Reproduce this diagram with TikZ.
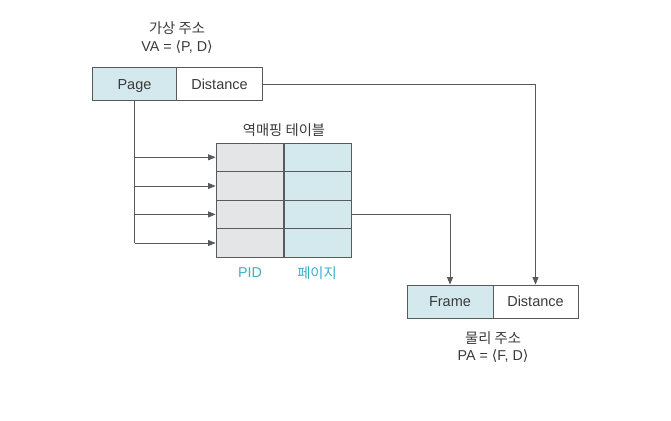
\documentclass[tikz,border=0pt]{standalone}
\usepackage{fontspec}
\setmainfont{Liberation Sans}
\newfontfamily\krfont{Noto Sans CJK KR}
\newfontfamily\djfont{DejaVu Sans}
\usetikzlibrary{arrows.meta}
\definecolor{lblue}{HTML}{D3E9EE}
\definecolor{lgray}{HTML}{E4E5E7}
\definecolor{ln}{HTML}{5A5A5A}
\definecolor{txt}{HTML}{3A3A3A}
\definecolor{cy}{HTML}{3AAFC6}
\newcommand{\lanb}{{\djfont\symbol{"27E8}}}
\newcommand{\ranb}{{\djfont\symbol{"27E9}}}
\begin{document}
\begin{tikzpicture}[x=1pt,y=-1pt,
  cell/.style={draw=ln,line width=0.8pt,minimum height=33pt,inner sep=0pt,text=txt,text height=10.5pt,text depth=0pt,font=\fontsize{14.5}{16}\selectfont},
  tcell/.style={draw=ln,line width=0.8pt,minimum width=67pt,minimum height=28.5pt,inner sep=0pt},
  lab/.style={text=txt,font=\fontsize{14.3}{16}\selectfont,align=center,inner sep=0pt},
  conn/.style={draw=ln,line width=0.8pt},
  arr/.style={conn,-{Triangle[length=7.5pt,width=6pt]}}]
\useasboundingbox (0,0) rectangle (671,420);
% virtual address
\node[cell,fill=lblue,minimum width=84pt] (page) at (134.5,84) {Page};
\node[cell,fill=white,minimum width=86pt] (vdist) at (219.5,84) {Distance};
\node[lab] (vat) at (177,28) {\krfont 가상 주소};
\node[lab] (va) at (177,47) {VA = \lanb P, D\ranb};
% table
\foreach \i/\y in {1/157.3,2/186,3/214.4,4/243}{
  \node[tcell,fill=lgray] (p\i) at (249.5,\y) {};
  \node[tcell,fill=lblue] (g\i) at (317.5,\y) {};
}
\node[lab] (tt) at (284,130) {\krfont 역매핑 테이블};
\node[lab,text=cy] (pid) at (250,273) {PID};
\node[lab,text=cy] (pg) at (317,273) {\krfont 페이지};
% physical address
\node[cell,fill=lblue,minimum width=86pt] (frame) at (450,301.5) {Frame};
\node[cell,fill=white,minimum width=85pt] (pdist) at (535.5,301.5) {Distance};
\node[lab] (pat) at (493,338) {\krfont 물리 주소};
\node[lab] (pa) at (493,356) {PA = \lanb F, D\ranb};
% connectors
\coordinate (trunk) at (page.south |- p4.west);
\draw[conn] (page.south) -- (trunk);
\foreach \i in {1,...,4}{
  \draw[arr] (trunk |- p\i.west) -- (p\i.west);
}
\draw[arr] (g3.east) -| (frame.north);
\draw[arr] (vdist.east) -| (pdist.north);
\end{tikzpicture}
\end{document}
